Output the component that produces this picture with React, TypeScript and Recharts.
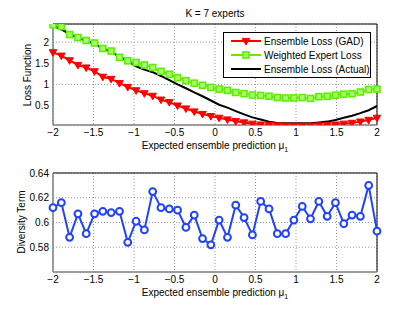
import React from 'react';
import {
  LineChart,
  Line,
  XAxis,
  YAxis,
  CartesianGrid,
  ReferenceLine,
  Legend,
} from 'recharts';

// mu values (40 points across [-2, 2])
const xs = [
  -2, -1.897, -1.795, -1.692, -1.59, -1.487, -1.385, -1.282, -1.179, -1.077,
  -0.974, -0.872, -0.769, -0.667, -0.564, -0.462, -0.359, -0.256, -0.154, -0.051,
  0.051, 0.154, 0.256, 0.359, 0.462, 0.564, 0.667, 0.769, 0.872, 0.974,
  1.077, 1.179, 1.282, 1.385, 1.487, 1.59, 1.692, 1.795, 1.897, 2,
];

const gadLoss = [
  1.76, 1.68, 1.57, 1.46, 1.4, 1.31, 1.18, 1.13, 1.03, 0.94,
  0.86, 0.79, 0.73, 0.64, 0.58, 0.5, 0.43, 0.36, 0.3, 0.25,
  0.21, 0.17, 0.13, 0.1, 0.07, 0.05, 0.04, 0.03, 0.02, 0.02,
  0.02, 0.02, 0.03, 0.04, 0.05, 0.07, 0.09, 0.12, 0.16, 0.21,
];

const weightedLoss = [
  2.41, 2.37, 2.18, 2.11, 2.04, 1.98, 1.85, 1.79, 1.64, 1.56,
  1.52, 1.46, 1.4, 1.31, 1.24, 1.16, 1.09, 1.03, 0.98, 0.93,
  0.89, 0.86, 0.81, 0.78, 0.75, 0.74, 0.72, 0.69, 0.68, 0.68,
  0.69, 0.67, 0.71, 0.72, 0.745, 0.77, 0.78, 0.82, 0.88, 0.89,
];

const actualLoss = [
  2.39, 2.3, 2.19, 2.1, 2.03, 1.96, 1.85, 1.77, 1.66, 1.55,
  1.43, 1.35, 1.29, 1.2, 1.1, 1.0, 0.91, 0.81, 0.72, 0.62,
  0.52, 0.45, 0.37, 0.29, 0.22, 0.17, 0.12, 0.09, 0.08, 0.08,
  0.08, 0.08, 0.1, 0.12, 0.16, 0.21, 0.26, 0.32, 0.39, 0.49,
];

const diversity = [
  0.612, 0.616, 0.588, 0.607, 0.591, 0.607, 0.609, 0.608, 0.609, 0.584,
  0.601, 0.594, 0.625, 0.612, 0.611, 0.61, 0.596, 0.606, 0.587, 0.582,
  0.602, 0.588, 0.614, 0.604, 0.59, 0.617, 0.611, 0.591, 0.591, 0.602,
  0.613, 0.603, 0.617, 0.605, 0.616, 0.599, 0.606, 0.605, 0.63, 0.593,
];

const xTicks = [-2, -1.5, -1, -0.5, 0, 0.5, 1, 1.5, 2];
const lossTicks = [0.5, 1, 1.5, 2];
const divTicks = [0.58, 0.6, 0.62, 0.64];

const lossData = xs.map((x, i) => ({
  x,
  gad: gadLoss[i],
  weighted: weightedLoss[i],
  actual: actualLoss[i],
}));
const divData = xs.map((x, i) => ({ x, div: diversity[i] }));

const FONT = '"Liberation Sans", Arial, sans-serif';
const RED = '#ff0000';
const GREEN = '#5cf000';
const BLUE = '#2142ff';

const fmtX = (v: number) => (v < 0 ? `\u2212${-v}` : `${v}`);
const tickStyle = { fontSize: 10, fill: '#000', fontFamily: FONT };

const TriDot = (p: any) => {
  const { cx, cy } = p;
  if (cx == null || cy == null) return <g key={p.index} />;
  return (
    <polygon
      key={p.index}
      points={`${cx - 3.8},${cy - 2.6} ${cx + 3.8},${cy - 2.6} ${cx},${cy + 4}`}
      fill={RED}
      stroke={RED}
      strokeWidth={1}
    />
  );
};

const SquareDot = (p: any) => {
  const { cx, cy } = p;
  if (cx == null || cy == null) return <g key={p.index} />;
  return (
    <rect key={p.index} x={cx - 3} y={cy - 3} width={6} height={6} fill="#a8ff70" stroke={GREEN} strokeWidth={1.6} />
  );
};

const CircleDot = (p: any) => {
  const { cx, cy } = p;
  if (cx == null || cy == null) return <g key={p.index} />;
  return <circle key={p.index} cx={cx} cy={cy} r={3.4} fill="#fff" stroke={BLUE} strokeWidth={2} />;
};

const LegendBox = () => {
  const rows = [
    { label: 'Ensemble Loss (GAD)', color: RED, marker: 'tri' },
    { label: 'Weighted Expert Loss', color: GREEN, marker: 'sq' },
    { label: 'Ensemble Loss (Actual)', color: '#000', marker: 'none' },
  ];
  return (
    <div
      style={{
        border: '1px solid #000',
        background: '#fff',
        width: 146,
        height: 42,
        padding: '1px 0',
        fontFamily: FONT,
        fontSize: 10,
        boxSizing: 'content-box',
      }}
    >
      {rows.map((r) => (
        <div key={r.label} style={{ display: 'flex', alignItems: 'center', height: 14 }}>
          <svg width={30} height={14} style={{ marginLeft: 7, marginRight: 3 }}>
            <line x1={0} y1={7} x2={30} y2={7} stroke={r.color} strokeWidth={2} />
            {r.marker === 'tri' && <polygon points="11.2,4.4 18.8,4.4 15,11" fill={RED} stroke={RED} />}
            {r.marker === 'sq' && (
              <rect x={12} y={4} width={6} height={6} fill="#a8ff70" stroke={GREEN} strokeWidth={1.6} />
            )}
          </svg>
          <span style={{ whiteSpace: 'nowrap' }}>{r.label}</span>
        </div>
      ))}
    </div>
  );
};

const textBase: React.CSSProperties = {
  position: 'absolute',
  fontFamily: FONT,
  fontSize: 10,
  color: '#000',
  whiteSpace: 'nowrap',
};

const XLabel = ({ top }: { top: number }) => (
  <div style={{ ...textBase, left: 53, width: 324, top, textAlign: 'center' }}>
    Expected ensemble prediction {'\u03bc'}
    <sub style={{ fontSize: 7 }}>1</sub>
  </div>
);

const YLabel = ({ text, cx, cy }: { text: string; cx: number; cy: number }) => (
  <div
    style={{
      ...textBase,
      left: cx - 60,
      top: cy - 6,
      width: 120,
      height: 12,
      lineHeight: '12px',
      textAlign: 'center',
      transform: 'rotate(-90deg)',
    }}
  >
    {text}
  </div>
);

export default function App() {
  return (
    <div style={{ position: 'absolute', left: 0, top: 0, width: 415, height: 312, background: '#fff' }}>
      <div style={{ ...textBase, left: 53, width: 324, top: 8, textAlign: 'center' }}>K = 7 experts</div>

      <div style={{ position: 'absolute', left: 0, top: 0 }}>
        <LineChart width={415} height={156} data={lossData} margin={{ top: 24, right: 38, bottom: 0, left: 0 }}>
          <CartesianGrid stroke="#9a9a9a" strokeDasharray="1 2" />
          <XAxis
            dataKey="x"
            type="number"
            domain={[-2, 2]}
            ticks={xTicks}
            tickFormatter={fmtX}
            tick={tickStyle}
            tickLine={false}
            tickSize={3}
            tickMargin={1}
            height={31}
            axisLine={{ stroke: '#808080', strokeWidth: 1.5 }}
          />
          <YAxis
            type="number"
            domain={[0.04, 2.43]}
            allowDataOverflow
            ticks={lossTicks}
            tick={tickStyle}
            tickLine={false}
            tickSize={3}
            tickMargin={1}
            width={53}
            axisLine={{ stroke: '#808080', strokeWidth: 1.5 }}
          />
          <ReferenceLine y={2.43} stroke="#000" />
          <ReferenceLine x={2} stroke="#000" />
          <Line dataKey="gad" stroke={RED} strokeWidth={2} dot={TriDot} isAnimationActive={false} />
          <Line dataKey="weighted" stroke={GREEN} strokeWidth={2} dot={SquareDot} isAnimationActive={false} />
          <Line dataKey="actual" stroke="#000" strokeWidth={2} dot={false} isAnimationActive={false} />
          <Legend
            layout="horizontal"
            verticalAlign="middle"
            content={() => <LegendBox />}
            wrapperStyle={{ left: 223, top: 32, width: 148, height: 44 }}
          />
        </LineChart>
      </div>
      <XLabel top={140} />
      <YLabel text="Loss Function" cx={28} cy={75} />

      <div style={{ position: 'absolute', left: 0, top: 156 }}>
        <LineChart width={415} height={156} data={divData} margin={{ top: 17, right: 38, bottom: 0, left: 0 }}>
          <CartesianGrid stroke="#9a9a9a" strokeDasharray="1 2" />
          <XAxis
            dataKey="x"
            type="number"
            domain={[-2, 2]}
            ticks={xTicks}
            tickFormatter={fmtX}
            tick={tickStyle}
            tickLine={false}
            tickSize={3}
            tickMargin={1}
            height={40}
            axisLine={{ stroke: '#808080', strokeWidth: 1.5 }}
          />
          <YAxis
            type="number"
            domain={[0.56, 0.64]}
            allowDataOverflow
            ticks={divTicks}
            tick={tickStyle}
            tickLine={false}
            tickSize={3}
            tickMargin={1}
            width={53}
            axisLine={{ stroke: '#808080', strokeWidth: 1.5 }}
          />
          <ReferenceLine y={0.64} stroke="#000" />
          <ReferenceLine x={2} stroke="#000" />
          <Line dataKey="div" stroke={BLUE} strokeWidth={2} dot={CircleDot} isAnimationActive={false} />
        </LineChart>
      </div>
      <XLabel top={287} />
      <YLabel text="Diversity Term" cx={22} cy={222} />
    </div>
  );
}
